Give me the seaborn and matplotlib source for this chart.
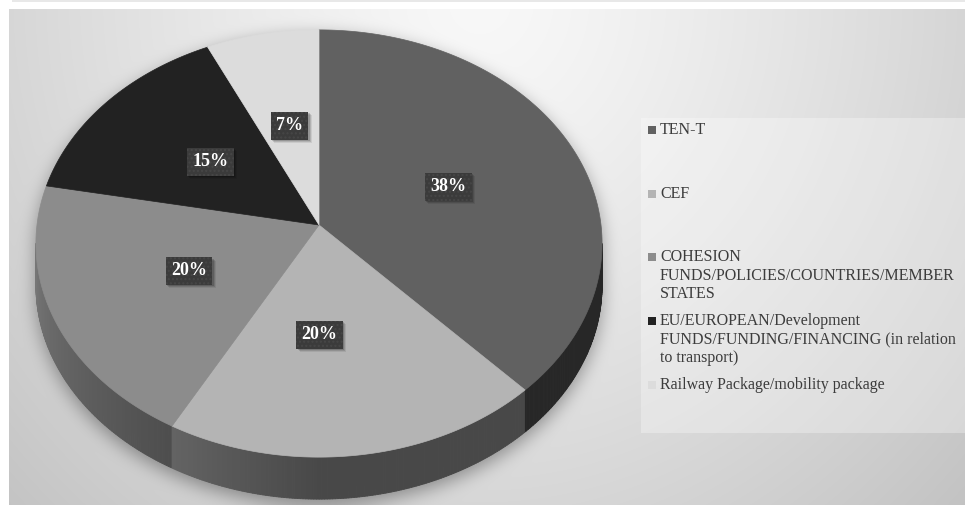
import numpy as np
import matplotlib
matplotlib.use("Agg")
import matplotlib.pyplot as plt
from matplotlib.patches import Polygon, Rectangle
from matplotlib.collections import PolyCollection
import seaborn as sns

# ---- data -------------------------------------------------------------
categories = [
    "TEN-T",
    "CEF",
    "COHESION\nFUNDS/POLICIES/COUNTRIES/MEMBER\nSTATES",
    "EU/EUROPEAN/Development\nFUNDS/FUNDING/FINANCING (in relation\nto transport)",
    "Railway Package/mobility package",
]
shares = [38, 20, 20, 15, 7]
slice_colors = ["#616161", "#b4b4b4", "#8c8c8c", "#222222", "#dcdcdc"]

# ---- canvas -----------------------------------------------------------
W, H = 965, 508
sns.set_theme(style="white")
plt.rcParams["font.family"] = ["Liberation Serif", "DejaVu Serif"]

fig = plt.figure(figsize=(W / 100, H / 100), dpi=100)
ax = fig.add_axes([0, 0, 1, 1])
ax.set_xlim(0, W)
ax.set_ylim(H, 0)
ax.axis("off")

# ---- 3-D pie geometry (pixel space) -------------------------------------
CX, CY = 319.0, 225.0      # projected centre of the disc
RX, RY = 282.0, 212.0      # projected radii
PERS = 0.0867              # perspective strength
DEPTH = 42.0               # thickness of the disc


def rim(phi_deg, frac=1.0):
    """Projected point on the top face at clockwise angle phi from 12 o'clock."""
    phi = np.radians(phi_deg)
    u = frac * np.sin(phi)
    v = frac * np.cos(phi)
    s = 1.0 / (1.0 + PERS * v)
    return CX + RX * u * s, CY - RY * v * s


# outline ellipse of the projected disc
ECY = CY + RY * PERS / (1 - PERS ** 2)
EA = RX / np.sqrt(1 - PERS ** 2)
EB = RY / (1 - PERS ** 2)

# ---- background with soft shadow ----------------------------------------
yy, xx = np.mgrid[0:H, 0:W] + 0.5
bg = 248 - 38 * np.hypot((xx - 480) / 520, yy / 560) ** 1.3


def disc_mask(dy):
    y = yy - dy
    top = ((xx - CX) / EA) ** 2 + ((y - ECY) / EB) ** 2 <= 1
    bot = ((xx - CX) / EA) ** 2 + ((y - ECY - DEPTH) / EB) ** 2 <= 1
    mid = (np.abs(xx - CX) <= EA) & (y >= ECY) & (y <= ECY + DEPTH)
    return (top | bot | mid).astype(float)


def blur1d(a, r, axis):
    k = 2 * r + 1
    pad = [(0, 0), (0, 0)]
    pad[axis] = (r + 1, r)
    c = np.cumsum(np.pad(a, pad, mode="edge"), axis=axis)
    if axis == 0:
        return (c[k:] - c[:-k]) / k
    return (c[:, k:] - c[:, :-k]) / k


sh = disc_mask(6)
for _ in range(3):
    sh = blur1d(blur1d(sh, 8, 0), 8, 1)
bg = bg * (1 - 0.36 * sh)

# white page margin and thin rule above the chart area
bg[:9, :] = 255
bg[:, :9] = 255
bg[505:, :] = 255
bg[0:2, 12:] = 232
rgb = np.clip(np.dstack([bg] * 3) / 255.0, 0, 1)
ax.imshow(rgb, extent=(0, W, H, 0), interpolation="bilinear", zorder=0)

# translucent legend panel
ax.add_patch(Rectangle((641, 118), 330, 315, facecolor="white", alpha=0.3,
                       linewidth=0, zorder=1))

# ---- slices -------------------------------------------------------------
palette = sns.color_palette(slice_colors)
bounds = np.concatenate([[0], np.cumsum(shares)]) / sum(shares) * 360.0


def side_factor(phi):
    return 0.40 if phi < 180 else 0.40 + 0.45 * (phi - 180) / 85.0


# visible side wall between the two silhouette points
phi_l = np.degrees(np.arccos(-PERS))
phi_r = 360 - phi_l
step = 0.5
polys, cols = [], []
for a in np.arange(phi_l, phi_r, step):
    b = min(a + step, phi_r)
    m = 0.5 * (a + b)
    idx = np.searchsorted(bounds, m) - 1
    base = np.array(palette[idx])
    col = np.clip(base * side_factor(m), 0, 1)
    xa, ya = rim(a)
    xb, yb = rim(b)
    polys.append([(xa, ya), (xb, yb), (xb, yb + DEPTH), (xa, ya + DEPTH)])
    cols.append(col)
ax.add_collection(PolyCollection(polys, facecolors=cols, edgecolors=cols,
                                 linewidths=0.6, zorder=2))

# top faces
for i, share in enumerate(shares):
    a, b = bounds[i], bounds[i + 1]
    phis = np.linspace(a, b, 200)
    px, py = rim(phis)
    pts = np.column_stack([np.r_[CX, px], np.r_[CY, py]])
    ax.add_patch(Polygon(pts, closed=True, facecolor=palette[i],
                         edgecolor=palette[i], linewidth=0.5, zorder=3))

# ---- percentage labels --------------------------------------------------
label_nudge = [0, -18, 0, 0, 0]
labels = []
for i, share in enumerate(shares):
    mid = 0.5 * (bounds[i] + bounds[i + 1])
    lx, ly = rim(mid, 0.5)
    t = ax.text(lx + label_nudge[i], ly, f"{share}%", ha="center", va="center",
                fontsize=13, fontweight="bold", color="white", zorder=6,
                bbox=dict(boxstyle="square,pad=0.3", facecolor="#3b3b3b",
                          edgecolor="#474747", linewidth=0, hatch="...."))
    labels.append(t)

# soft drop shadow under each label box
fig.canvas.draw()
inv = ax.transData.inverted()
for t in labels:
    bb = t.get_bbox_patch().get_window_extent()
    (x0, y0), (x1, y1) = inv.transform([[bb.x0, bb.y0], [bb.x1, bb.y1]])
    left, top = min(x0, x1), min(y0, y1)
    w, h = abs(x1 - x0), abs(y1 - y0)
    for k, al in ((3.5, 0.08), (2.5, 0.12), (1.5, 0.16)):
        ax.add_patch(Rectangle((left + k, top + k), w, h, facecolor="black",
                               alpha=al, linewidth=0, zorder=5))

# ---- legend -------------------------------------------------------------
entry_gap = 63.7
line_gap = 18.5
for i, name in enumerate(categories):
    y0 = 130 + i * entry_gap
    ax.add_patch(Rectangle((648, y0 - 4), 8, 8, facecolor=palette[i],
                           linewidth=0, zorder=5))
    for j, line in enumerate(name.split("\n")):
        ax.text(660, y0 + j * line_gap, line, ha="left", va="center",
                fontsize=11.5, color="#3c3c3c", zorder=5)

fig.savefig("out.png", dpi=100)
